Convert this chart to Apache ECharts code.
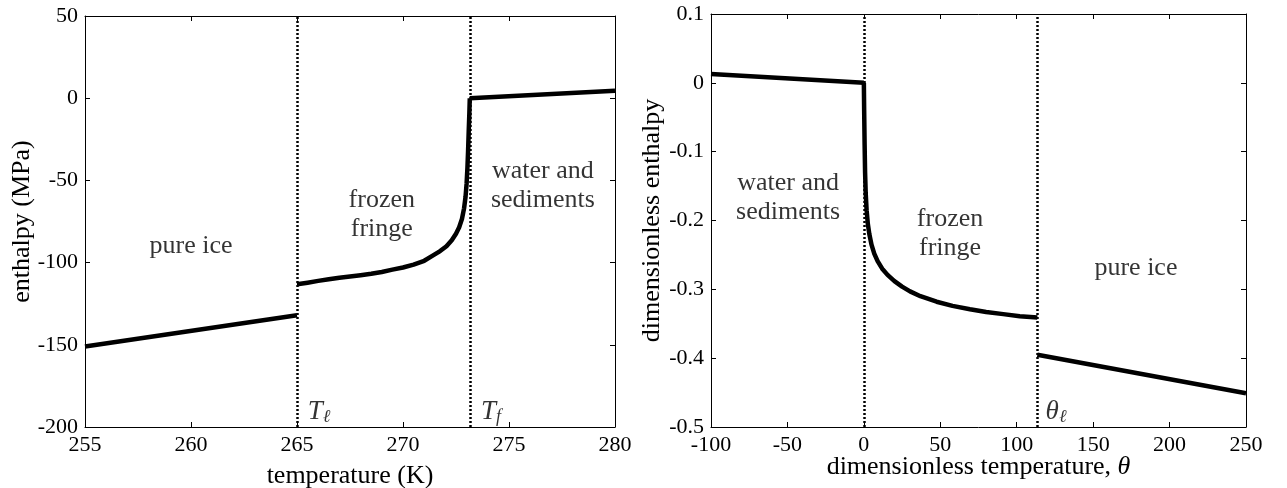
<!DOCTYPE html>
<html>
<head>
<meta charset="utf-8">
<script src="https://cdn.jsdelivr.net/npm/echarts@6/dist/echarts.min.js"></script>
<style>
html,body{margin:0;padding:0;background:#fff;}
#chart{width:1287px;height:488px;}
</style>
</head>
<body>
<div id="chart"></div>
<script>
// ---------- data: left panel (dimensional) ----------
const leftIceT = [255, 265];
const leftIceH = [-151, -132];
const leftFringeT = [265.0, 265.5, 266.0, 266.5, 267.0, 267.5, 268.0, 268.5, 269.0, 269.5, 270.0, 270.5, 271.0,
  271.4, 271.75, 272.05, 272.3, 272.5, 272.65, 272.78, 272.88, 272.95, 273.0, 273.04, 273.07, 273.1, 273.13, 273.15];
const leftFringeH = [-113.2, -112.2, -111.1, -110.1, -109.2, -108.5, -107.7, -106.8, -105.7, -104.3, -103.0, -101.2, -98.9,
  -95.8, -93.0, -90.0, -86.4, -82.4, -78.5, -73.5, -67.0, -60.0, -52.0, -42, -32, -20, -9, 0];
const leftWaterT = [273.15, 280];
const leftWaterH = [0, 4.6];
const leftBoundaries = [265, 273.15];
const leftXTicks = [255, 260, 265, 270, 275, 280];
const leftYTicks = [-200, -150, -100, -50, 0, 50];

// ---------- data: right panel (dimensionless) ----------
const rightWaterTheta = [-100, 0];
const rightWaterH = [0.013, 0];
const rightFringeTheta = [0, 0.2, 0.5, 0.8, 1.2, 1.8, 2.6, 3.6, 5.0, 6.8, 9.0, 12, 15.5, 20, 25, 30.2, 37, 47.6,
  58, 69.4, 80, 91.2, 102, 113.5];
const rightFringeH = [0, -0.04, -0.09, -0.13, -0.16, -0.185, -0.205, -0.22, -0.235, -0.248, -0.259, -0.27, -0.279,
  -0.288, -0.296, -0.303, -0.310, -0.318, -0.324, -0.329, -0.333, -0.336, -0.339, -0.341];
const rightIceTheta = [113.5, 250];
const rightIceH = [-0.395, -0.451];
const rightBoundaries = [0, 113.5];
const rightXTicks = [-100, -50, 0, 50, 100, 150, 200, 250];
const rightYTicks = [-0.5, -0.4, -0.3, -0.2, -0.1, 0, 0.1];

const FONT = '"Liberation Serif", "DejaVu Serif", serif';
const FS = 22;   // tick labels
const FW = 26;   // words

function zip(a, b) { return a.map((v, i) => [v, b[i]]); }

const lineCommon = {
  type: 'value',
  axisLine: { show: true, onZero: false, lineStyle: { color: '#000', width: 1 } },
  axisTick: { show: true, inside: true, length: 5, lineStyle: { color: '#000', width: 1 } },
  splitLine: { show: false }
};

function axisX(gridIndex, ticks, name, nameGap, nameRich) {
  const min = ticks[0], max = ticks[ticks.length - 1], interval = ticks[1] - ticks[0];
  const common = Object.assign({}, lineCommon, { gridIndex, min, max, interval });
  return [
    Object.assign({}, common, {
      position: 'bottom', name, nameLocation: 'middle', nameGap, nameMoveOverlap: false,
      nameTextStyle: { fontFamily: FONT, fontSize: FW, color: '#000', rich: nameRich },
      axisLabel: { show: true, margin: 7, fontFamily: FONT, fontSize: FS, color: '#000' }
    }),
    Object.assign({}, common, { position: 'top', axisLabel: { show: false } })
  ];
}
function axisY(gridIndex, ticks, name, nameGap) {
  const min = ticks[0], max = ticks[ticks.length - 1];
  const interval = Math.round((ticks[1] - ticks[0]) * 1000) / 1000;
  const common = Object.assign({}, lineCommon, { gridIndex, min, max, interval });
  return [
    Object.assign({}, common, {
      position: 'left', name, nameLocation: 'middle', nameGap, nameMoveOverlap: false,
      nameTextStyle: { fontFamily: FONT, fontSize: FW, color: '#000' },
      axisLabel: { show: true, margin: 7, fontFamily: FONT, fontSize: FS, color: '#000',
        formatter: v => String(Math.round(v * 1000) / 1000) }
    }),
    Object.assign({}, common, { position: 'right', axisLabel: { show: false } })
  ];
}

const curveStyle = { color: '#000', width: 4.5, cap: 'butt', join: 'round' };
function curve(xi, yi, data) {
  return { type: 'line', xAxisIndex: xi, yAxisIndex: yi, data, showSymbol: false, symbol: 'none',
    lineStyle: curveStyle, itemStyle: { color: '#000' }, animation: false, z: 3 };
}
function boundaries(xi, yi, vals) {
  return { type: 'line', xAxisIndex: xi, yAxisIndex: yi, data: [], silent: true, animation: false,
    markLine: { symbol: 'none', silent: true, animation: false, label: { show: false },
      lineStyle: { color: '#000', width: 2.5, type: [2, 2] },
      data: vals.map(v => ({ xAxis: v })) } };
}
const richText = {
  t: { fontFamily: FONT, fontSize: FW, color: '#000', lineHeight: 29 },
  i: { fontFamily: FONT, fontSize: 27, fontStyle: 'italic', color: '#000' },
  s: { fontFamily: FONT, fontSize: 18, fontStyle: 'italic', color: '#000', verticalAlign: 'bottom', padding: [10, 0, 0, 0] }
};
function notes(xi, yi, items) {
  return { type: 'scatter', xAxisIndex: xi, yAxisIndex: yi, symbolSize: 0, silent: true, animation: false, z: 5,
    data: items.map(it => ({ value: [it[0], it[1]], label: { show: true, position: 'inside', formatter: it[2],
      color: '#000', textBorderWidth: 0, align: 'center', verticalAlign: 'middle', rich: richText } })) };
}

const xL = axisX(0, leftXTicks, 'temperature (K)', 36);
const xR = axisX(1, rightXTicks, '{t|dimensionless temperature, }{i|θ}', 27,
  { t: { fontFamily: FONT, fontSize: FW, color: '#000' }, i: { fontFamily: FONT, fontSize: FW, fontStyle: 'italic', color: '#000' } });
const yL = axisY(0, leftYTicks, 'enthalpy (MPa)', 50);
const yR = axisY(1, rightYTicks, 'dimensionless enthalpy', 46);

const option = {
  backgroundColor: '#fff',
  animation: false,
  grid: [
    { left: 85, top: 16, width: 530, height: 411, outerBoundsMode: 'none', containLabel: false },
    { left: 711, top: 14, width: 535, height: 413, outerBoundsMode: 'none', containLabel: false }
  ],
  xAxis: [xL[0], xL[1], xR[0], xR[1]],
  yAxis: [yL[0], yL[1], yR[0], yR[1]],
  series: [
    boundaries(0, 0, leftBoundaries),
    curve(0, 0, zip(leftIceT, leftIceH)),
    curve(0, 0, zip(leftFringeT, leftFringeH)),
    curve(0, 0, zip(leftWaterT, leftWaterH)),
    notes(0, 0, [
      [260, -90, '{t|pure ice}'],
      [269.0, -70.7, '{t|frozen}\n{t|fringe}'],
      [276.6, -53.1, '{t|water and}\n{t|sediments}'],
      [266.04, -190.9, '{i|T}{s|ℓ}'],
      [274.15, -190.9, '{i|T}{s|f}']
    ]),
    boundaries(2, 2, rightBoundaries),
    curve(2, 2, zip(rightWaterTheta, rightWaterH)),
    curve(2, 2, zip(rightFringeTheta, rightFringeH)),
    curve(2, 2, zip(rightIceTheta, rightIceH)),
    notes(2, 2, [
      [-49.6, -0.167, '{t|water and}\n{t|sediments}'],
      [56.4, -0.219, '{t|frozen}\n{t|fringe}'],
      [178, -0.269, '{t|pure ice}'],
      [125.7, -0.478, '{i|θ}{s|ℓ}']
    ])
  ]
};

const chart = echarts.init(document.getElementById('chart'), null, { renderer: 'canvas' });
chart.setOption(option);
</script>
</body>
</html>
